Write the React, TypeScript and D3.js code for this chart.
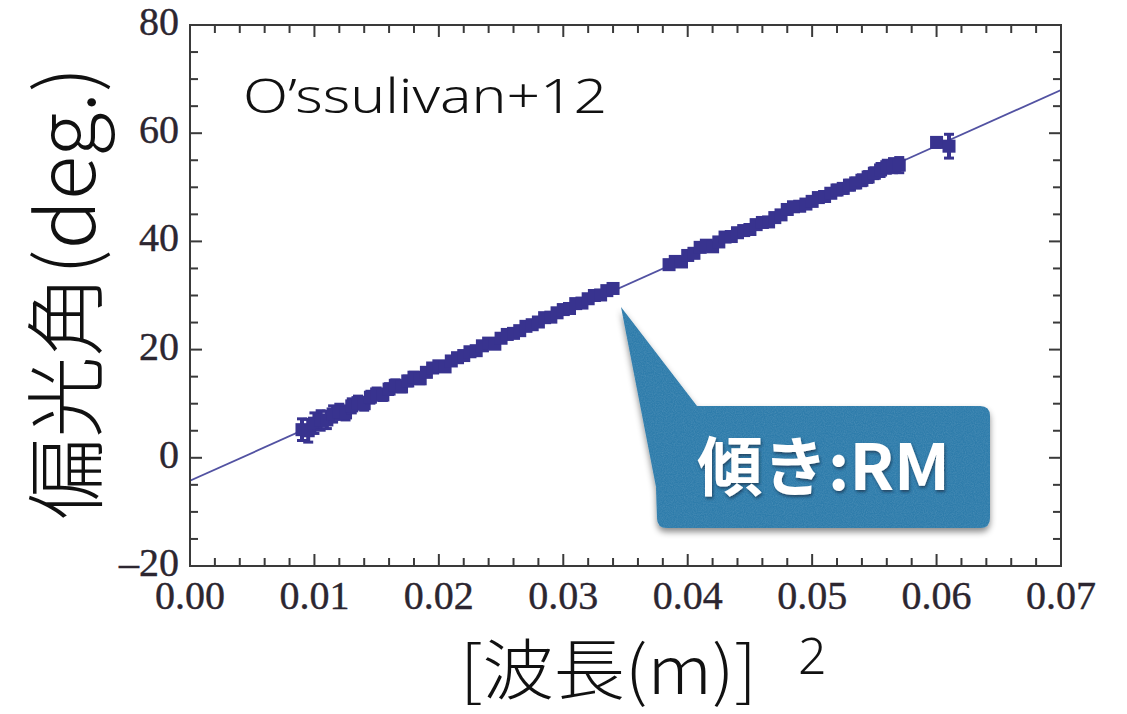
import React from "react";
import * as d3 from "d3";

// Squared wavelength (m^2) and polarization angle (deg) with 1-sigma errors
const LAMBDA2_LOW = [
  0.0090, 0.0095, 0.0100, 0.0105, 0.0110, 0.0115, 0.0120, 0.0125, 0.0130, 0.0135,
  0.0140, 0.0145, 0.0150, 0.0155, 0.0160, 0.0165, 0.0170, 0.0175, 0.0180, 0.0185,
  0.0190, 0.0195, 0.0200, 0.0205, 0.0210, 0.0215, 0.0220, 0.0225, 0.0230, 0.0235,
  0.0240, 0.0245, 0.0250, 0.0255, 0.0260, 0.0265, 0.0270, 0.0275, 0.0280, 0.0285,
  0.0290, 0.0295, 0.0300, 0.0305, 0.0310, 0.0315, 0.0320, 0.0325, 0.0330, 0.0335,
  0.0340,
];
const ANGLE_LOW = [
  5.2, 5.0, 6.4, 6.9, 7.0, 8.1, 8.5, 8.3, 9.6, 10.2,
  10.0, 11.2, 11.8, 11.6, 12.7, 13.4, 13.1, 14.2, 14.9, 14.6,
  15.8, 16.6, 17.0, 16.8, 17.9, 18.5, 18.9, 19.6, 19.8, 20.7,
  21.2, 21.0, 22.1, 22.8, 23.0, 23.5, 24.3, 24.6, 25.1, 25.9,
  26.0, 26.8, 27.4, 27.6, 28.5, 28.6, 29.4, 30.0, 30.1, 30.9,
  31.3,
];
const ERR_LOW = [
  2.0, 2.1, 1.9, 1.8, 1.6, 1.5, 1.4, 1.3, 1.3, 1.2,
  1.2, 1.1, 1.1, 1.0, 1.0, 1.0, 0.9, 0.9, 0.9, 0.9,
  0.8, 0.8, 0.8, 0.8, 0.8, 0.8, 0.7, 0.7, 0.7, 0.7,
  0.7, 0.7, 0.7, 0.7, 0.7, 0.7, 0.7, 0.7, 0.7, 0.7,
  0.7, 0.7, 0.7, 0.7, 0.7, 0.7, 0.7, 0.7, 0.7, 0.7,
  0.7,
];

const LAMBDA2_HIGH = [
  0.0385, 0.0390, 0.0395, 0.0400, 0.0405, 0.0410, 0.0415, 0.0420, 0.0425, 0.0430,
  0.0435, 0.0440, 0.0445, 0.0450, 0.0455, 0.0460, 0.0465, 0.0470, 0.0475, 0.0480,
  0.0485, 0.0490, 0.0495, 0.0500, 0.0505, 0.0510, 0.0515, 0.0520, 0.0525, 0.0530,
  0.0535, 0.0540, 0.0545, 0.0550, 0.0555, 0.0560, 0.0565, 0.0570, 0.0600, 0.0610,
];
const ANGLE_HIGH = [
  35.7, 36.3, 36.2, 37.4, 37.8, 38.9, 39.3, 39.0, 39.9, 40.8,
  40.9, 41.6, 42.0, 42.2, 43.1, 43.5, 43.6, 44.4, 44.9, 45.9,
  46.4, 46.5, 46.9, 47.4, 48.1, 48.3, 48.9, 49.5, 49.8, 50.4,
  50.8, 51.3, 51.9, 52.6, 53.2, 53.8, 54.0, 54.1, 58.3, 57.6,
];
const ERR_HIGH = [
  0.8, 0.8, 0.8, 0.8, 0.8, 0.8, 0.8, 0.8, 0.8, 0.8,
  0.8, 0.8, 0.8, 0.8, 0.8, 0.8, 0.8, 0.8, 0.8, 0.8,
  0.8, 0.8, 0.8, 0.8, 0.8, 0.8, 0.8, 0.9, 0.9, 0.9,
  0.9, 1.0, 1.0, 1.0, 1.2, 1.2, 1.3, 1.4, 0.9, 2.2,
];

// Linear fit: angle = intercept + RM-slope * lambda^2
const FIT_INTERCEPT = -4.25;
const FIT_SLOPE = 1032;

const X_DOMAIN = [0, 0.07];
const Y_DOMAIN = [-20, 80];

const TITLE = "O\u2019ssulivan+12";
const X_LABEL = "[波長(m)]";
const X_LABEL_SUP = "2";
const Y_LABEL = "偏光角(deg.)";
const CALLOUT = "傾き:RM";

const W = 1127;
const H = 714;
const M = { left: 190, right: 1061, top: 25, bottom: 566 };

export default function App() {
  const x = d3.scaleLinear().domain(X_DOMAIN).range([M.left, M.right]);
  const y = d3.scaleLinear().domain(Y_DOMAIN).range([M.bottom, M.top]);

  const xMajor = x.ticks(7);
  const xMinor = x.ticks(35).filter((v) => !xMajor.some((m) => Math.abs(m - v) < 1e-9));
  const yMajor = y.ticks(5);
  const yMinor = y.ticks(20).filter((v) => !yMajor.some((m) => Math.abs(m - v) < 1e-9));

  const points = [
    ...LAMBDA2_LOW.map((l, i) => ({ l, a: ANGLE_LOW[i], e: ERR_LOW[i] })),
    ...LAMBDA2_HIGH.map((l, i) => ({ l, a: ANGLE_HIGH[i], e: ERR_HIGH[i] })),
  ];

  const fitLine = d3
    .line<number>()
    .x((l) => x(l))
    .y((l) => y(FIT_INTERCEPT + FIT_SLOPE * l));

  const axisColor = "#3a3a3a";
  const tickColor = "#2c2630";
  const markColor = "#38338f";
  const MAJ = 12;
  const MIN = 8;
  const S = 13;

  const calloutPath =
    "M621,307 L697,406 L980,406 Q990,406 990,416 L990,518 Q990,528 980,528 " +
    "L667,528 Q657,528 657,518 L656,487 Z";

  return (
    <svg
      width={W}
      height={H}
      viewBox={`0 0 ${W} ${H}`}
      style={{ position: "absolute", left: 0, top: 0, background: "#fff" }}
    >
      <defs>
        <clipPath id="plotClip">
          <rect x={M.left} y={M.top} width={M.right - M.left} height={M.bottom - M.top} />
        </clipPath>
        <filter id="boxShadow" x="-10%" y="-10%" width="125%" height="130%">
          <feDropShadow dx="0" dy="4" stdDeviation="3" floodColor="#000" floodOpacity="0.45" />
        </filter>
        <filter id="textShadow" x="-10%" y="-20%" width="120%" height="150%">
          <feDropShadow dx="1" dy="2" stdDeviation="1.5" floodColor="#0a2030" floodOpacity="0.6" />
        </filter>
        <filter id="paper" x="0" y="0" width="100%" height="100%">
          <feTurbulence type="fractalNoise" baseFrequency="0.9" numOctaves="2" seed="3" result="n" />
          <feColorMatrix
            in="n"
            type="matrix"
            values="0 0 0 0 1  0 0 0 0 1  0 0 0 0 1  0 0 0 0.35 -0.1"
            result="w"
          />
          <feComposite in="w" in2="SourceGraphic" operator="in" />
        </filter>
      </defs>

      {/* fitted line */}
      <path
        d={fitLine(X_DOMAIN) || ""}
        stroke="#5252a2"
        strokeWidth={1.8}
        fill="none"
        clipPath="url(#plotClip)"
      />

      {/* data with error bars */}
      <g fill={markColor} stroke={markColor}>
        {points.map((p, i) => (
          <g key={i}>
            <line x1={x(p.l)} x2={x(p.l)} y1={y(p.a - p.e)} y2={y(p.a + p.e)} strokeWidth={4} />
            <line x1={x(p.l) - 5} x2={x(p.l) + 5} y1={y(p.a - p.e)} y2={y(p.a - p.e)} strokeWidth={3} />
            <line x1={x(p.l) - 5} x2={x(p.l) + 5} y1={y(p.a + p.e)} y2={y(p.a + p.e)} strokeWidth={3} />
            <rect x={x(p.l) - S / 2} y={y(p.a) - S / 2} width={S} height={S} stroke="none" />
          </g>
        ))}
      </g>

      {/* frame */}
      <rect
        x={M.left}
        y={M.top}
        width={M.right - M.left}
        height={M.bottom - M.top}
        fill="none"
        stroke={axisColor}
        strokeWidth={2}
      />

      {/* ticks on all four sides, pointing inward */}
      <g stroke={axisColor} strokeWidth={2}>
        {xMajor.map((v) => (
          <g key={"xM" + v}>
            <line x1={x(v)} x2={x(v)} y1={M.bottom} y2={M.bottom - MAJ} />
            <line x1={x(v)} x2={x(v)} y1={M.top} y2={M.top + MAJ} />
          </g>
        ))}
        {xMinor.map((v) => (
          <g key={"xm" + v}>
            <line x1={x(v)} x2={x(v)} y1={M.bottom} y2={M.bottom - MIN} />
            <line x1={x(v)} x2={x(v)} y1={M.top} y2={M.top + MIN} />
          </g>
        ))}
        {yMajor.map((v) => (
          <g key={"yM" + v}>
            <line x1={M.left} x2={M.left + MAJ} y1={y(v)} y2={y(v)} />
            <line x1={M.right} x2={M.right - MAJ} y1={y(v)} y2={y(v)} />
          </g>
        ))}
        {yMinor.map((v) => (
          <g key={"ym" + v}>
            <line x1={M.left} x2={M.left + MIN} y1={y(v)} y2={y(v)} />
            <line x1={M.right} x2={M.right - MIN} y1={y(v)} y2={y(v)} />
          </g>
        ))}
      </g>

      {/* tick labels */}
      <g
        fontFamily="'Liberation Serif', 'DejaVu Serif', serif"
        fontSize={40}
        fill={tickColor}
        stroke={tickColor}
        strokeWidth={0.4}
      >
        {xMajor.map((v) => (
          <text key={"xl" + v} x={x(v)} y={609} textAnchor="middle">
            {d3.format(".2f")(v)}
          </text>
        ))}
        {yMajor.map((v) => (
          <text key={"yl" + v} x={179} y={y(v) + 10} textAnchor="end">
            {v < 0 ? "\u2013" + Math.abs(v) : String(v)}
          </text>
        ))}
      </g>

      {/* source label */}
      <text
        x={243}
        y={113}
        fontFamily="'Noto Sans', 'Liberation Sans', sans-serif"
        fontWeight={300}
        fontSize={48}
        textLength={364}
        lengthAdjust="spacingAndGlyphs"
        fill="#111"
      >
        {TITLE}
      </text>

      {/* axis titles */}
      <g transform="translate(460,694) scale(1,1.1)">
        <text
          x={0}
          y={0}
          fontFamily="'Noto Sans CJK JP', 'Noto Sans', sans-serif"
          fontWeight={300}
          fontSize={60}
          textLength={297}
          lengthAdjust="spacingAndGlyphs"
          fill="#111"
        >
          {X_LABEL}
        </text>
      </g>
      <text
        x={798}
        y={674}
        fontFamily="'Noto Sans', 'Liberation Sans', sans-serif"
        fontWeight={300}
        fontSize={50}
        fill="#111"
      >
        {X_LABEL_SUP}
      </text>
      <text
        transform="translate(60,293) rotate(-90)"
        textAnchor="middle"
        dominantBaseline="central"
        fontFamily="'Noto Sans CJK JP', 'Noto Sans', sans-serif"
        fontWeight={300}
        fontSize={80}
        textLength={453}
        lengthAdjust="spacingAndGlyphs"
        fill="#111"
      >
        {Y_LABEL}
      </text>

      {/* callout */}
      <path d={calloutPath} fill="#2e7bab" filter="url(#boxShadow)" />
      <path d={calloutPath} fill="#2e7bab" filter="url(#paper)" opacity={0.5} />
      <text
        x={697}
        y={490}
        fontFamily="'Noto Sans CJK JP', 'Noto Sans', sans-serif"
        fontWeight={700}
        fontSize={64}
        textLength={253}
        lengthAdjust="spacingAndGlyphs"
        fill="#fff"
        filter="url(#textShadow)"
      >
        {CALLOUT}
      </text>
    </svg>
  );
}
